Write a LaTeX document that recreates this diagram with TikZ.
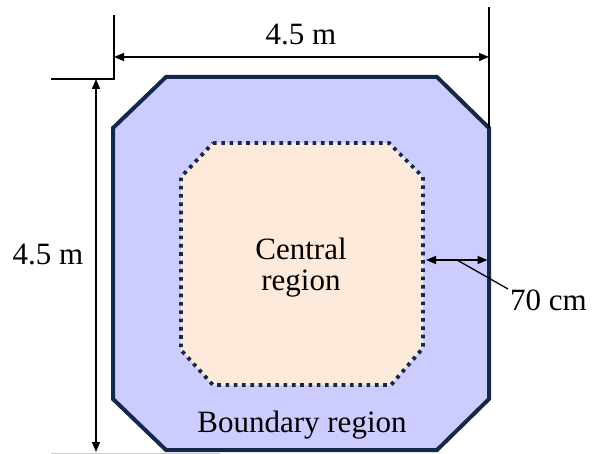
\documentclass[tikz,border=0pt]{standalone}
\usepackage{fontspec}
\setmainfont{Liberation Serif}
\usetikzlibrary{arrows.meta}
\definecolor{navy}{HTML}{14284A}
\definecolor{lav}{HTML}{CCCCFF}
\definecolor{peach}{HTML}{FDEADA}
\begin{document}
\begin{tikzpicture}[x=1bp,y=-1bp,
  dimline/.style={line width=1.3bp, black},
  dimarrow/.style={dimline, {Triangle[length=10bp,width=8bp]}-{Triangle[length=10bp,width=8bp]}},
  lbl/.style={font=\fontsize{31bp}{31bp}\selectfont, inner sep=0pt},
  outerbox/.style={fill=lav, draw=navy, line width=4bp, line join=miter},
  innerbox/.style={fill=peach, draw=navy, line width=3.8bp, dash pattern=on 3.6bp off 4.7bp}]
\useasboundingbox (0,0) rectangle (592,454);
% faint bottom line
\draw[gray!40, line width=0.8bp] (51,453.2) -- (220,453.2);
% outer octagon
\draw[outerbox] (166,77) -- (437,77) -- (489,128) -- (489,399) -- (437,450) -- (166,450) -- (113,399) -- (113,128) -- cycle;
% inner octagon
\draw[innerbox] (213,143) -- (389,143) -- (423,177) -- (423,348) -- (391,385) -- (213,385) -- (181,350) -- (181,177) -- cycle;
% extension lines
\coordinate (tlTop) at (114,15);
\coordinate (tlBot) at (114,79);
\coordinate (lExt) at (51,79);
\coordinate (trTop) at (489,7);
\coordinate (trBot) at (489,128);
\draw[dimline] (tlTop) -- (tlBot) -- (lExt);
\draw[dimline] (trTop) -- (trBot);
% horizontal dimension
\coordinate (hL) at (114,57);
\coordinate (hR) at (489,57);
\draw[dimarrow] (hL) -- (hR);
\node[lbl, anchor=base] (wlabel) at (301,45) {4.5 m};
% vertical dimension
\coordinate (vT) at (96,79);
\coordinate (vB) at (96,452);
\draw[dimarrow] (vT) -- (vB);
\node[lbl, anchor=base] (hlabel) at (48,265) {4.5 m};
% 70 cm
\coordinate (wA) at (426,260);
\coordinate (wB) at (487.5,260);
\draw[dimarrow] (wA) -- (wB);
\coordinate (lead0) at (457,260);
\node[lbl, anchor=base] (cm) at (548.5,310) {70 cm};
\coordinate (lead1) at (508,289);
\draw[dimline] (lead0) -- (lead1);
% region labels
\node[lbl, align=center] (central) at (301,268) {Central\\region};
\node[lbl, anchor=base] (boundary) at (302,432) {Boundary region};
\end{tikzpicture}
\end{document}
